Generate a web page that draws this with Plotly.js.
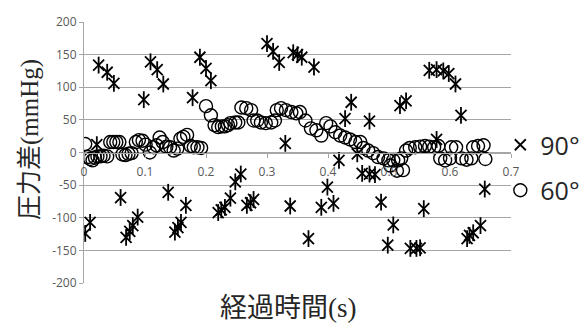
<!DOCTYPE html>
<html>
<head>
<meta charset="utf-8">
<script src="https://cdn.plot.ly/plotly-3.0.1.min.js"></script>
<style>html,body{margin:0;padding:0;background:#fff;}#chart{width:583px;height:324px;}</style>
</head>
<body>
<div id="chart"></div>
<script>
// 90° series (time s, pressure difference mmHg)
var t90 = [0.024,0.038,0.049,0.021,0.098,0.109,0.120,0.130,0.178,0.190,0.200,0.208,
  0.300,0.310,0.320,0.330,0.343,0.350,0.357,0.377,0.438,0.428,0.468,0.518,0.528,
  0.566,0.578,0.589,0.598,0.609,0.618,0.578,
  0.418,0.448,0.456,0.468,0.477,0.399,0.389,0.409,0.487,0.368,0.507,0.498,0.535,0.545,0.551,
  0.557,0.628,0.632,0.638,0.650,0.657,0.338,
  0.002,0.010,0.060,0.069,0.075,0.080,0.088,0.138,0.149,0.154,0.159,0.167,
  0.220,0.225,0.231,0.240,0.248,0.257,0.267,0.273,0.278];
var p90 = [134,123,106,12,81,139,127,105,84,146,129,110,
  167,155,138,14,153,150,146,131,77,52,48,72,79,
  126,127,125,121,105,57,20,
  -12,-2,-32,-33,-34,-53,-84,-78,-76,-132,-111,-142,-147,-147,-146,
  -86,-132,-127,-123,-112,-56,-82,
  -124,-107,-69,-130,-121,-112,-99,-61,-122,-115,-107,-81,
  -92,-88,-84,-70,-45,-33,-81,-77,-72];

// 60° series
var t60 = [0.002,0.006,0.010,0.014,0.018,0.022,0.027,0.032,0.038,0.043,0.048,0.053,0.058,
  0.063,0.068,0.073,0.078,0.085,0.090,0.096,0.101,0.108,0.114,0.119,0.124,0.129,0.135,
  0.141,0.147,0.153,0.158,0.163,0.169,0.175,0.180,0.186,0.192,
  0.200,0.208,0.214,0.220,0.226,0.231,0.236,0.240,0.248,0.253,
  0.258,0.266,0.274,0.278,0.284,0.290,0.298,0.307,0.313,
  0.316,0.323,0.331,0.340,0.348,0.354,0.363,0.372,0.381,0.389,0.397,0.404,
  0.412,0.420,0.428,0.436,0.445,0.453,0.458,0.466,0.474,0.482,0.491,0.499,0.502,
  0.507,0.513,0.515,0.520,0.523,0.528,
  0.534,0.543,0.551,0.559,0.566,0.574,0.581,0.584,0.592,0.600,0.602,0.610,
  0.619,0.627,0.635,0.638,0.646,0.655,0.658];
var p60 = [13,-7,-10,-12,-8,-6,-6,-5,-6,16,16,16,16,
  -3,-4,-2,-1,16,19,18,12,0,8,11,23,16,9,
  8,3,6,21,24,27,10,8,8,7,
  71,57,42,39,40,40,42,45,46,46,
  69,68,65,49,49,46,45,46,49,
  65,68,65,62,60,62,49,37,34,26,45,40,
  31,26,23,20,16,16,7,3,-1,-7,-9,-12,-20,
  -12,-28,-12,-9,-27,3,
  7,8,9,10,9,8,10,-9,-12,-9,8,8,
  -9,-11,-9,8,10,11,-10];

var xTickVals = [0,0.1,0.2,0.3,0.4,0.5,0.6,0.7];
var xTickText = ['0','0.1','0.2','0.3','0.4','0.5','0.6','0.7'];
var yTickVals = [-200,-150,-100,-50,0,50,100,150,200];
var yTickText = ['-200','-150','-100','-50','0','50','100','150','200'];

var seriesNames = ['90°','60°'];

var traces = [
  {x:t90, y:p90, type:'scatter', mode:'markers', name:seriesNames[0], legendgroup:'a',
   marker:{symbol:'x-thin-open', size:11, color:'#000', line:{color:'#000', width:1.8}}},
  {x:t90, y:p90, type:'scatter', mode:'markers', name:seriesNames[0], legendgroup:'a', showlegend:false,
   marker:{symbol:'line-ns-open', size:12, color:'#000', line:{color:'#000', width:1.8}}},
  {x:t60, y:p60, type:'scatter', mode:'markers', name:seriesNames[1], legendgroup:'b',
   marker:{symbol:'circle-open', size:13, color:'#000', line:{color:'#000', width:1.4}}}
];

var gridC = '#a6a6a6';
var tickFont = {family:'Open Sans, sans-serif', size:12, color:'#595959'};

var layout = {
  width:583, height:324,
  margin:{l:84, r:72, t:22, b:41, pad:0, autoexpand:false},
  paper_bgcolor:'#fff', plot_bgcolor:'#fff',
  showlegend:true,
  legend:{x:0.975, y:0.4425, xanchor:'left', yanchor:'middle', bgcolor:'rgba(0,0,0,0)',
    font:{family:'Open Sans, sans-serif', size:25, color:'#262626'}, tracegroupgap:10, itemwidth:30},
  xaxis:{range:[0,0.7], tickvals:xTickVals, ticktext:xTickText, anchor:'free', position:0.5,
    showline:true, linecolor:gridC, linewidth:1, ticks:'outside', ticklen:4, tickcolor:gridC,
    ticklabelstandoff:4, automargin:false,
    showgrid:false, zeroline:false, tickfont:tickFont, fixedrange:true},
  yaxis:{range:[-200,200], tickvals:yTickVals, ticktext:yTickText, showline:true, linecolor:gridC,
    linewidth:1, ticks:'outside', ticklen:4, tickcolor:gridC, showgrid:true, gridcolor:gridC,
    gridwidth:1, zeroline:false, tickfont:tickFont, fixedrange:true, automargin:false},
  annotations:[
    {text:'経過時間<span style="font-family:Liberation Serif">(s)</span>', xref:'paper', yref:'paper',
     x:0.480, y:-0.088, xanchor:'center', yanchor:'middle', showarrow:false,
     font:{family:'Noto Sans CJK JP', size:27, color:'#262626'}},
    {text:'圧力差<span style="font-family:Liberation Serif">(mmHg)</span>', xref:'paper', yref:'paper',
     x:-0.1335, y:0.5517, xanchor:'center', yanchor:'middle', showarrow:false, textangle:-90,
     font:{family:'Noto Sans CJK JP', size:25, color:'#262626'}}
  ]
};

Plotly.newPlot('chart', traces, layout, {staticPlot:true, displayModeBar:false});
</script>
</body>
</html>
